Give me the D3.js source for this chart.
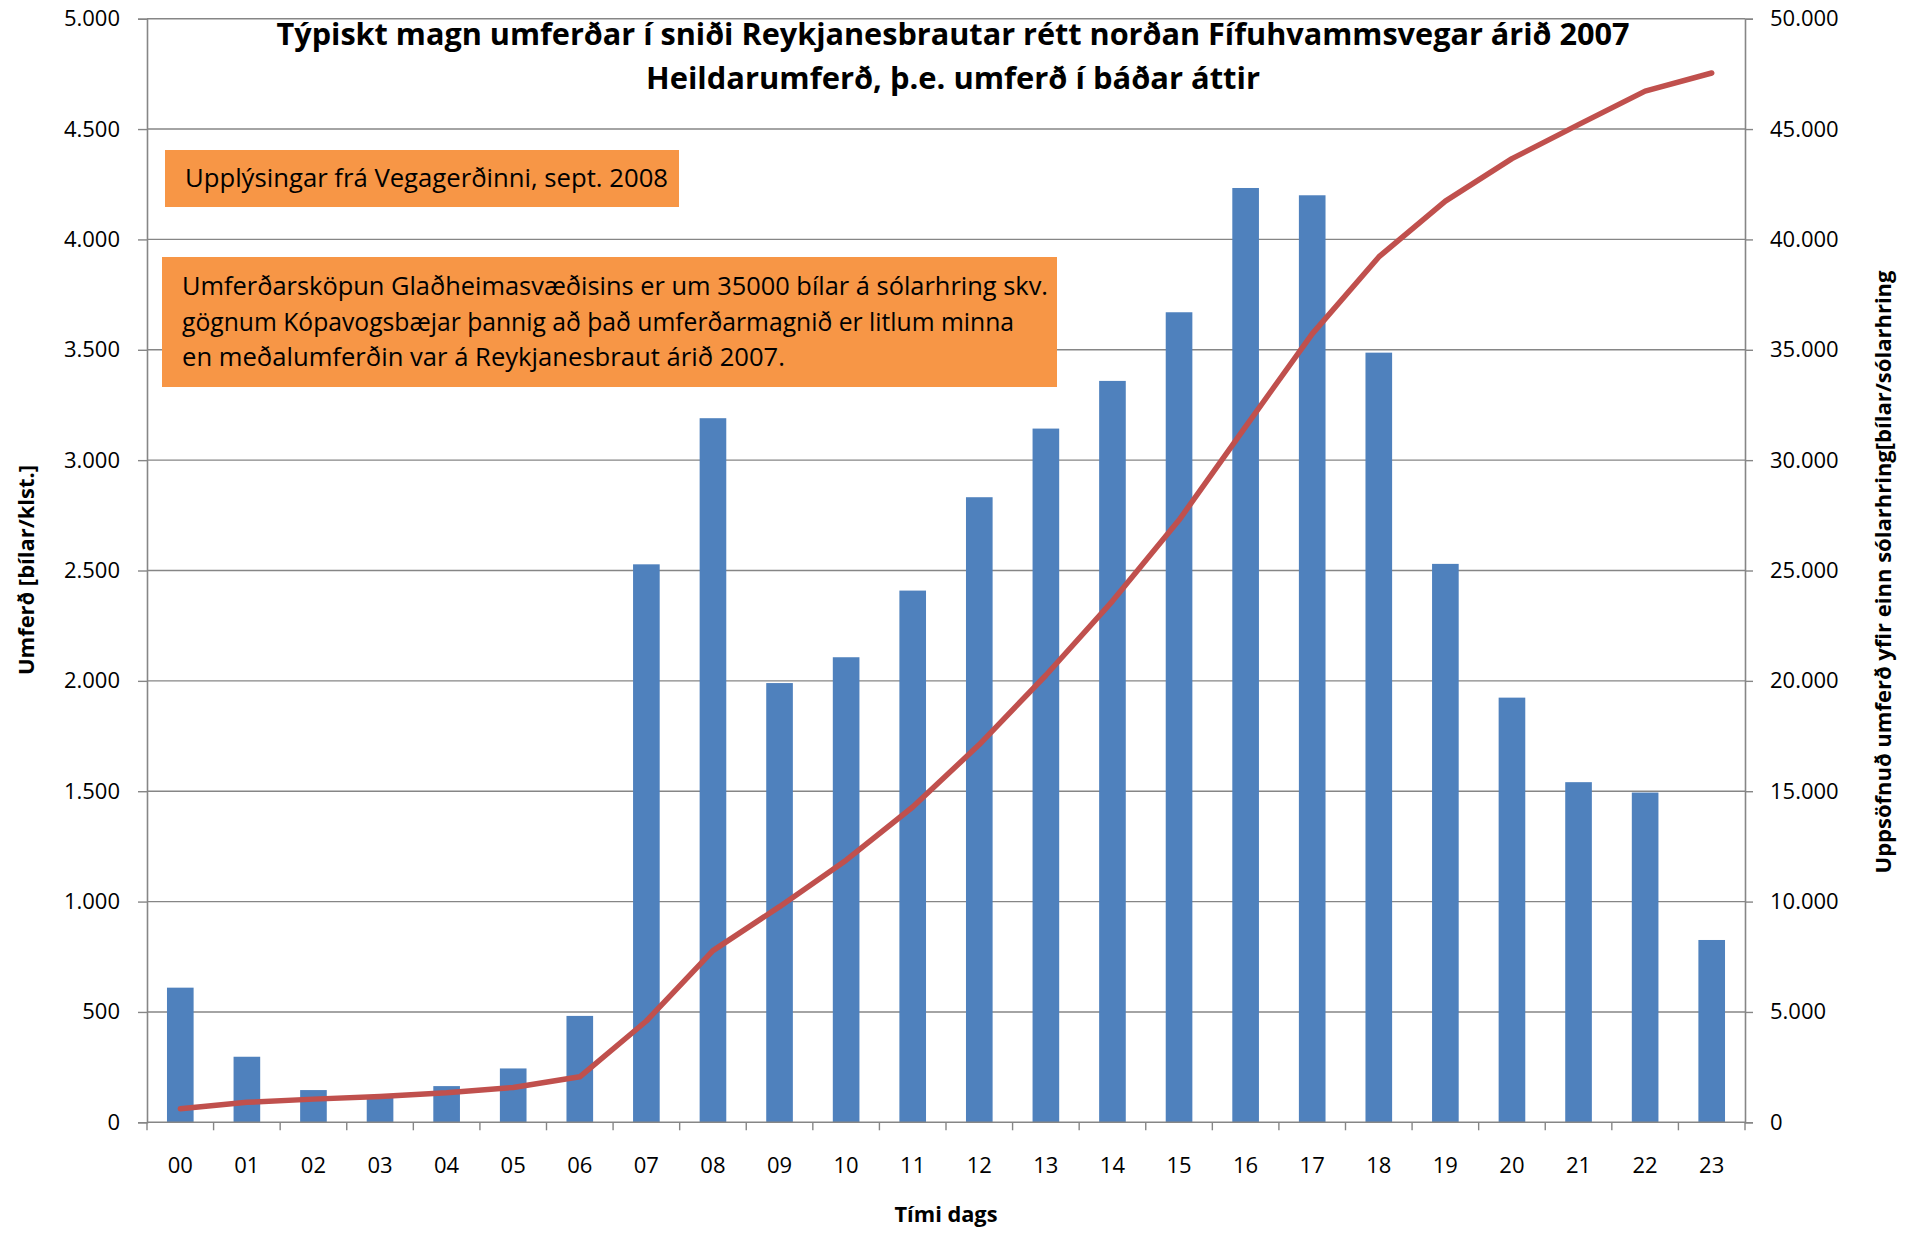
<!DOCTYPE html>
<html>
<head>
<meta charset="utf-8">
<script src="https://cdnjs.cloudflare.com/ajax/libs/d3/7.8.5/d3.min.js"></script>
<style>
    body { margin: 0; background: #fff; }
    svg { display: block; font-family: "Open Sans", sans-serif; }
    .tick text { fill: #000; }
</style>
</head>
<body>
<svg id="chart" width="1907" height="1234"></svg>
<script>
    // hours of the day
    const hours = ["00","01","02","03","04","05","06","07","08","09","10","11",
                   "12","13","14","15","16","17","18","19","20","21","22","23"];
    // traffic per hour [bílar/klst.]
    const hourly = [610, 297, 146, 116, 164, 244, 482, 2528, 3190, 1990, 2107, 2409,
                    2832, 3143, 3359, 3670, 4233, 4200, 3487, 2530, 1924, 1541, 1494, 826];
    // accumulated traffic over the day
    const cumulative = [610, 905, 1050, 1170, 1335, 1580, 2060, 4590, 7780, 9770, 11875, 14285,
                        17115, 20255, 23615, 27285, 31520, 35720, 39205, 41735, 43660, 45200, 46720, 47540];
    const leftTicks = [0, 500, 1000, 1500, 2000, 2500, 3000, 3500, 4000, 4500, 5000];
    const rightTicks = [0, 5000, 10000, 15000, 20000, 25000, 30000, 35000, 40000, 45000, 50000];

    const titleLines = ["Týpiskt magn umferðar í sniði Reykjanesbrautar rétt norðan Fífuhvammsvegar árið 2007",
                        "Heildarumferð, þ.e. umferð í báðar áttir"];
    const note1 = "Upplýsingar frá Vegagerðinni, sept. 2008";
    const note2 = ["Umferðarsköpun Glaðheimasvæðisins er um 35000 bílar á sólarhring skv.",
                   "gögnum Kópavogsbæjar þannig að það umferðarmagnið er litlum minna",
                   "en meðalumferðin var á Reykjanesbraut árið 2007."];

    const plotLeft = 147, plotRight = 1745, plotTop = 18.7, plotBottom = 1122.3;
    const gridColor = "#868686";

    const is = d3.formatLocale({decimal: ",", thousands: ".", grouping: [3], currency: ["", ""]});
    const fmt = is.format(",");

    const svg = d3.select("#chart");
    svg.append("rect").attr("width", 1907).attr("height", 1234).attr("fill", "#fff");

    const x = d3.scaleBand().domain(hours).range([plotLeft, plotRight]).paddingInner(0.6).paddingOuter(0.3);
    const yL = d3.scaleLinear().domain([0, 5000]).range([plotBottom, plotTop]);
    const yR = d3.scaleLinear().domain([0, 50000]).range([plotBottom, plotTop]);

    // gridlines
    svg.append("g")
        .selectAll("line")
        .data(leftTicks.slice(1))
        .enter()
        .append("line")
        .attr("x1", plotLeft).attr("x2", plotRight)
        .attr("y1", d => yL(d)).attr("y2", d => yL(d))
        .attr("stroke", gridColor).attr("stroke-width", 1.4);

    // left axis
    const axL = svg.append("g")
        .attr("transform", `translate(${plotLeft},0)`)
        .call(d3.axisLeft(yL).tickValues(leftTicks).tickFormat(fmt).tickSize(9).tickPadding(18));
    // right axis
    const axR = svg.append("g")
        .attr("transform", `translate(${plotRight},0)`)
        .call(d3.axisRight(yR).tickValues(rightTicks).tickFormat(fmt).tickSize(8).tickPadding(17));
    [axL, axR].forEach(a => {
        a.select(".domain").attr("stroke", gridColor).attr("stroke-width", 1.6);
        a.selectAll(".tick line").attr("stroke", gridColor).attr("stroke-width", 1.4);
        a.selectAll(".tick text").attr("font-size", 22).attr("font-family", "Open Sans");
    });

    // bars
    svg.append("g")
        .selectAll("rect")
        .data(hours)
        .enter()
        .append("rect")
        .attr("x", d => x(d))
        .attr("width", x.bandwidth())
        .attr("y", (d, i) => yL(hourly[i]))
        .attr("height", (d, i) => plotBottom - yL(hourly[i]))
        .attr("fill", "#4F81BD");

    // x axis: ticks between categories
    const step = x.step();
    const axX = svg.append("g").attr("transform", `translate(0,${plotBottom})`);
    axX.append("line").attr("x1", plotLeft).attr("x2", plotRight)
        .attr("stroke", gridColor).attr("stroke-width", 1.6);
    axX.selectAll("line.tk")
        .data(d3.range(hours.length + 1))
        .enter()
        .append("line")
        .attr("class", "tk")
        .attr("x1", i => plotLeft + i * step).attr("x2", i => plotLeft + i * step)
        .attr("y1", 0).attr("y2", 8)
        .attr("stroke", gridColor).attr("stroke-width", 1.4);
    axX.selectAll("text")
        .data(hours)
        .enter()
        .append("text")
        .attr("x", d => x(d) + x.bandwidth() / 2)
        .attr("y", 51)
        .attr("text-anchor", "middle")
        .attr("font-size", 22)
        .text(d => d);

    // cumulative line
    const line = d3.line()
        .x((d, i) => x(hours[i]) + x.bandwidth() / 2)
        .y(d => yR(d));
    svg.append("path")
        .datum(cumulative)
        .attr("d", line)
        .attr("fill", "none")
        .attr("stroke", "#C0504D")
        .attr("stroke-width", 5.5)
        .attr("stroke-linejoin", "round")
        .attr("stroke-linecap", "round");

    // title
    svg.append("text")
        .attr("x", 953).attr("y", 45)
        .attr("text-anchor", "middle")
        .attr("font-size", 31).attr("font-weight", "bold")
        .attr("textLength", 1353).attr("lengthAdjust", "spacingAndGlyphs")
        .text(titleLines[0]);
    svg.append("text")
        .attr("x", 953).attr("y", 89)
        .attr("text-anchor", "middle")
        .attr("font-size", 31).attr("font-weight", "bold")
        .attr("textLength", 614).attr("lengthAdjust", "spacingAndGlyphs")
        .text(titleLines[1]);

    // notes
    svg.append("rect")
        .attr("x", 165).attr("y", 150).attr("width", 514).attr("height", 57)
        .attr("fill", "#F79646");
    svg.append("text")
        .attr("x", 185).attr("y", 187)
        .attr("font-size", 25)
        .attr("textLength", 483).attr("lengthAdjust", "spacingAndGlyphs")
        .text(note1);

    svg.append("rect")
        .attr("x", 162).attr("y", 257).attr("width", 895).attr("height", 130)
        .attr("fill", "#F79646");
    const note2Len = [866, 832, 603];
    svg.selectAll("text.note2")
        .data(note2)
        .enter()
        .append("text")
        .attr("class", "note2")
        .attr("x", 182)
        .attr("y", (d, i) => 295 + i * 35.5)
        .attr("font-size", 25)
        .attr("textLength", (d, i) => note2Len[i]).attr("lengthAdjust", "spacingAndGlyphs")
        .text(d => d);

    // axis titles
    svg.append("text")
        .attr("transform", "translate(34,570) rotate(-90)")
        .attr("text-anchor", "middle")
        .attr("font-size", 21).attr("font-weight", "bold")
        .attr("textLength", 210).attr("lengthAdjust", "spacingAndGlyphs")
        .text("Umferð [bílar/klst.]");
    svg.append("text")
        .attr("transform", "translate(1891,572) rotate(-90)")
        .attr("text-anchor", "middle")
        .attr("font-size", 21).attr("font-weight", "bold")
        .attr("textLength", 603).attr("lengthAdjust", "spacingAndGlyphs")
        .text("Uppsöfnuð umferð yfir einn sólarhring[bílar/sólarhring");
    svg.append("text")
        .attr("x", 946).attr("y", 1222)
        .attr("text-anchor", "middle")
        .attr("font-size", 21).attr("font-weight", "bold")
        .attr("textLength", 103).attr("lengthAdjust", "spacingAndGlyphs")
        .text("Tími dags");
</script>
</body>
</html>
